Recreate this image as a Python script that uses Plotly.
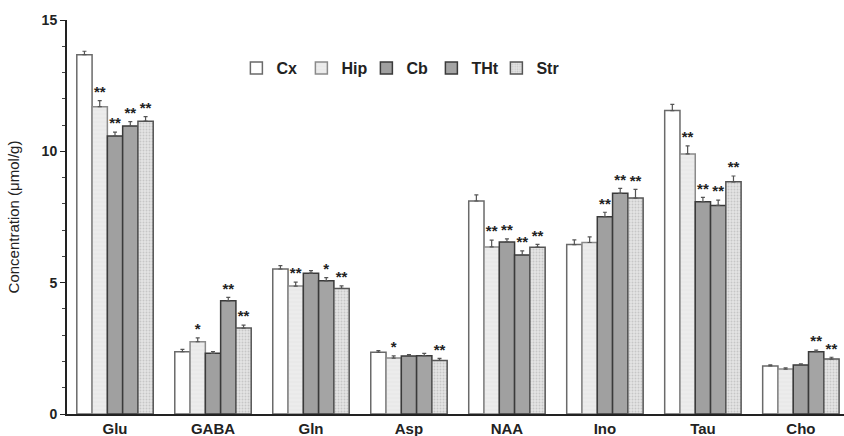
import plotly.graph_objects as go

categories = ["Glu", "GABA", "Gln", "Asp", "NAA", "Ino", "Tau", "Cho"]
series_names = ["Cx", "Hip", "Cb", "THt", "Str"]

cx_vals = [13.68, 2.37, 5.52, 2.35, 8.11, 6.45, 11.55, 1.83]
hip_vals = [11.70, 2.75, 4.87, 2.13, 6.36, 6.53, 9.90, 1.71]
cb_vals = [10.58, 2.31, 5.36, 2.21, 6.55, 7.51, 8.08, 1.87]
tht_vals = [10.96, 4.31, 5.07, 2.22, 6.05, 8.40, 7.94, 2.37]
str_vals = [11.15, 3.27, 4.78, 2.04, 6.35, 8.22, 8.84, 2.09]

cx_err = [0.13, 0.09, 0.13, 0.06, 0.23, 0.18, 0.24, 0.04]
hip_err = [0.23, 0.15, 0.15, 0.08, 0.26, 0.21, 0.31, 0.05]
cb_err = [0.15, 0.07, 0.10, 0.05, 0.12, 0.17, 0.17, 0.04]
tht_err = [0.17, 0.13, 0.12, 0.09, 0.16, 0.19, 0.20, 0.06]
str_err = [0.17, 0.11, 0.10, 0.08, 0.11, 0.33, 0.22, 0.07]

cx_sig = ["", "", "", "", "", "", "", ""]
hip_sig = ["**", "*", "**", "*", "**", "", "**", ""]
cb_sig = ["**", "", "", "", "**", "**", "**", ""]
tht_sig = ["**", "**", "*", "", "**", "**", "**", "**"]
str_sig = ["**", "**", "**", "**", "**", "**", "**", "**"]

values = [cx_vals, hip_vals, cb_vals, tht_vals, str_vals]
errors = [cx_err, hip_err, cb_err, tht_err, str_err]
sigs = [cx_sig, hip_sig, cb_sig, tht_sig, str_sig]

fills = ["#ffffff", "#e9e9e9", "#a0a0a0", "#a4a4a4", "#dadada"]
patterns = [None,
            dict(shape="-", fgcolor="#d4d4d4", bgcolor="#ececec", size=4, solidity=0.15),
            None, None,
            dict(shape=".", fgcolor="#a8a8a8", bgcolor="#e4e4e4", size=3, solidity=0.35)]
outlines = ["#6a6a6a", "#8a8a8a", "#3a3a3a", "#3a3a3a", "#555555"]

fig = go.Figure()
for name, vals, errs, fc, pat, lc in zip(series_names, values, errors, fills, patterns, outlines):
    marker = dict(color=fc, line=dict(color=lc, width=1.5))
    if pat:
        marker["pattern"] = pat
    fig.add_trace(go.Bar(
        name=name, x=categories, y=vals, marker=marker,
        error_y=dict(type="data", array=errs, arrayminus=[0] * len(errs), symmetric=False,
                     color="#555555", thickness=1.2, width=2),
        offsetgroup=name,
    ))

for name, vals, errs, sg in zip(series_names, values, errors, sigs):
    fig.add_trace(go.Scatter(
        x=categories, y=[v + e for v, e in zip(vals, errs)], text=sg,
        mode="text", textposition="top center",
        textfont=dict(family="Liberation Sans", size=15, color="#222222", weight="bold"),
        showlegend=False, hoverinfo="skip", offsetgroup=name,
    ))

fig.update_layout(
    width=844, height=436,
    barmode="group", bargap=0.22, bargroupgap=0,
    scattermode="group", scattergap=0.22,
    plot_bgcolor="white", paper_bgcolor="white",
    margin=dict(l=67, r=0, t=20, b=22, autoexpand=False),
    font=dict(family="Liberation Sans", color="#222222"),
    legend=dict(orientation="h", x=0.218, y=0.878, xanchor="left", yanchor="middle",
                font=dict(size=16, family="Liberation Sans", weight="bold"),
                bgcolor="rgba(0,0,0,0)", itemwidth=30, tracegroupgap=0,
                entrywidth=20, entrywidthmode="pixels"),
    xaxis=dict(showline=True, linecolor="#222222", linewidth=2, ticks="",
               range=[-0.49, 7.44], automargin=False,
               tickfont=dict(size=15, weight="bold", family="Liberation Sans")),
    yaxis=dict(range=[0, 15], showline=True, linecolor="#222222", linewidth=2,
               tickvals=[0, 5, 10, 15], ticks="outside", ticklen=5, tickwidth=1.2,
               tickcolor="#222222", showgrid=False, zeroline=False, automargin=False,
               minor=dict(dtick=1, ticks="outside", ticklen=3, tickcolor="#444444", tickwidth=1),
               tickfont=dict(size=14, weight="bold", family="Liberation Sans"),
               title=dict(text="Concentration (μmol/g)", font=dict(size=15), standoff=18)),
)

fig.write_html("out.html", config={"displayModeBar": False},
               post_script="document.body.style.margin='0';document.body.style.overflow='hidden';")
